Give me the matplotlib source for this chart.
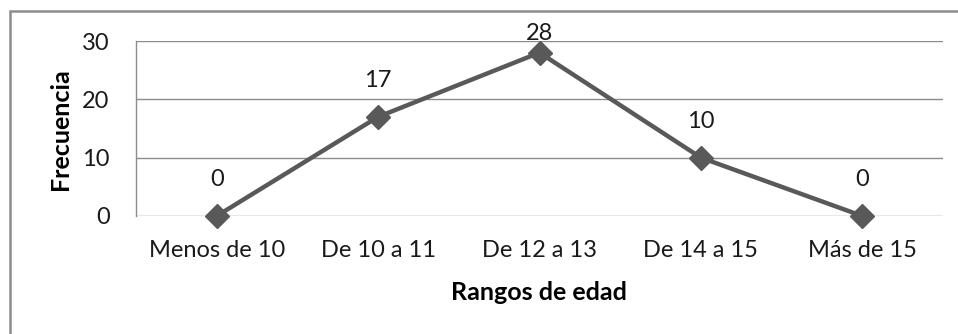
import matplotlib
matplotlib.use("Agg")
import matplotlib.pyplot as plt
from matplotlib.patches import Rectangle

categories = ["Menos de 10", "De 10 a 11", "De 12 a 13", "De 14 a 15", "Más de 15"]
frecuencia = [0, 17, 28, 10, 0]
yticks = [0, 10, 20, 30]

W, H = 958, 334
fig = plt.figure(figsize=(W / 100, H / 100), dpi=100)
plt.rcParams["font.family"] = ["Lato", "DejaVu Sans"]

FS = 17
TXT = "#1a1a1a"

# plot area in pixels: left 136, right 943, top 41, bottom 216
ax = fig.add_axes([136 / W, 1 - 216 / H, (943 - 136) / W, (216 - 41) / H])
ax.set_xlim(-0.5, len(categories) - 0.5)
ax.set_ylim(0, 30)

grid_color = "#8c8c8c"
for y in yticks:
    ax.axhline(y, color=grid_color, lw=1.0, zorder=1)

for s in ["top", "right", "bottom"]:
    ax.spines[s].set_visible(False)
ax.spines["left"].set_color(grid_color)
ax.spines["left"].set_linewidth(1.0)

x = list(range(len(categories)))
ax.plot(x, frecuencia, color="#595959", lw=3.2, marker="D", markersize=12,
        markerfacecolor="#595959", markeredgecolor="#595959", zorder=3,
        clip_on=False)

ax.set_yticks(yticks)
ax.set_yticklabels([str(v) for v in yticks], fontsize=FS, color=TXT)
ax.set_xticks(x)
ax.set_xticklabels(categories, fontsize=FS, color=TXT)
ax.tick_params(axis="both", length=0)
ax.tick_params(axis="y", pad=19)
ax.tick_params(axis="x", pad=17)

# value labels above each marker, kept inside the top of the chart
top_px = 33
for xi, v in zip(x, frecuencia):
    py = 216 - v * (175 / 30)
    off = min(36, py - top_px)
    ax.annotate(str(v), (xi, v), xytext=(0, off * 0.72), textcoords="offset points",
                ha="center", va="center", fontsize=FS, color=TXT)

fig.text(60 / W, 1 - 129 / H, "Frecuencia", rotation=90, ha="center", va="center",
         fontsize=18, fontweight="bold", color="#000000")
fig.text(539 / W, 1 - 292 / H, "Rangos de edad", ha="center", va="center",
         fontsize=18, fontweight="bold", color="#000000")

# outer chart border
fig.patches.append(Rectangle((10 / W, -0.1), 1.2, 1 - 11 / H + 0.1,
                             transform=fig.transFigure, fill=False,
                             edgecolor="#8c8c8c", lw=1.8))

fig.savefig("out.png", dpi=100)
